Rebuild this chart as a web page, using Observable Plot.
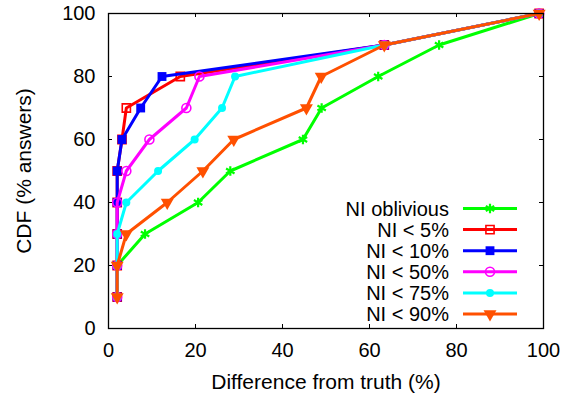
<!DOCTYPE html>
<html>
<head>
<meta charset="utf-8">
<script src="https://cdn.jsdelivr.net/npm/d3@7"></script>
<script src="https://cdn.jsdelivr.net/npm/@observablehq/plot@0.6"></script>
<style>
  html, body { margin: 0; padding: 0; background: #fff; }
  svg { display: block; }
</style>
</head>
<body>
<div id="chart"></div>
<script>
// CDF levels (% answers)
const cdfLevels = [10, 20, 30, 40, 50, 60, 70, 80, 90, 100];
// Difference from truth (%) at each CDF level, per series
const seriesNames = ["NI oblivious", "NI < 5%", "NI < 10%", "NI < 50%", "NI < 75%", "NI < 90%"];
const obliviousX = [2, 2, 8.4, 20.6, 28, 44.7, 49, 62, 76, 99];
const ni5X       = [2, 2, 2, 2, 2, 3.1, 4.1, 16.5, 63.4, 99];
const ni10X      = [2, 2, 2, 2, 2, 3.1, 7.4, 12.3, 63.4, 99];
const ni50X      = [2, 2, 2, 2, 4.1, 9.4, 17.9, 20.9, 63.4, 99];
const ni75X      = [2, 2, 2, 4.1, 11.4, 19.8, 26.1, 29.1, 63.4, 99];
const ni90X      = [2, 2, 4.1, 13.5, 21.7, 28.8, 45.5, 48.9, 63.4, 99];
const xTicks = [0, 20, 40, 60, 80, 100];
const yTicks = [0, 20, 40, 60, 80, 100];
const xTitle = "Difference from truth (%)";
const yTitle = "CDF (% answers)";

const seriesX = [obliviousX, ni5X, ni10X, ni50X, ni75X, ni90X];
const colors = ["#00ff00", "#ff0000", "#0000ff", "#ff00ff", "#00ffff", "#ff5000"];
const styles = [
  {symbol: "asterisk", r: 4.6, fill: "none", strokeWidth: 2.2},
  {symbol: "square", r: 4.6, fill: "none", strokeWidth: 1.6},
  {symbol: "square", r: 5, fill: "c", strokeWidth: 0},
  {symbol: "circle", r: 4.5, fill: "none", strokeWidth: 1.6},
  {symbol: "circle", r: 4, fill: "c", strokeWidth: 0},
  {symbol: "triangle", r: 4.8, fill: "c", strokeWidth: 0, rotate: 180}
];

const W = 568, H = 396;
const mL = 108, mR = 25, mT = 13, mB = 68;
const fw = W - mL - mR, fh = H - mT - mB;
const font = "'Liberation Sans', Arial, sans-serif";
const fs = 20;      // tick labels & legend
const fsTitle = 21; // axis titles
const tick = 4;

const marks = [];
seriesNames.forEach((name, i) => {
  const data = cdfLevels.map((y, j) => ({x: seriesX[i][j], y, name}));
  const st = styles[i];
  marks.push(Plot.line(data, {x: "x", y: "y", stroke: colors[i], strokeWidth: 3}));
  marks.push(Plot.dot(data, {
    x: "x", y: "y", symbol: st.symbol, r: st.r,
    fill: st.fill === "c" ? colors[i] : "none",
    stroke: st.strokeWidth ? colors[i] : "none",
    strokeWidth: st.strokeWidth,
    rotate: st.rotate || 0
  }));
});

const chart = Plot.plot({
  width: W, height: H,
  marginLeft: mL, marginRight: mR, marginTop: mT, marginBottom: mB,
  style: {fontFamily: font, fontSize: fs + "px", background: "#fff", color: "#000"},
  x: {domain: [0, 100], axis: null},
  y: {domain: [0, 100], axis: null},
  marks: [
    ...marks,
    // inward ticks on all four sides
    Plot.tickX(xTicks, {x: d => d, insetTop: fh - tick, stroke: "#000", strokeWidth: 1}),
    Plot.tickX(xTicks, {x: d => d, insetBottom: fh - tick, stroke: "#000", strokeWidth: 1}),
    Plot.tickY(yTicks, {y: d => d, insetRight: fw - tick, stroke: "#000", strokeWidth: 1}),
    Plot.tickY(yTicks, {y: d => d, insetLeft: fw - tick, stroke: "#000", strokeWidth: 1}),
    Plot.frame({stroke: "#000", strokeWidth: 1.3}),
    // tick labels
    Plot.text(xTicks, {x: d => d, text: d => String(d), frameAnchor: "bottom", dy: 22, lineAnchor: "middle", textAnchor: "middle", fontSize: fs, fill: "#000"}),
    Plot.text(yTicks, {y: d => d, text: d => String(d), frameAnchor: "left", dx: -13, lineAnchor: "middle", textAnchor: "end", fontSize: fs, fill: "#000"}),
    // axis titles
    Plot.text([xTitle], {text: d => d, frameAnchor: "bottom", dy: 54, lineAnchor: "middle", textAnchor: "middle", fontSize: fsTitle, fill: "#000"}),
    Plot.text([yTitle], {text: d => d, frameAnchor: "left", dx: -84, rotate: -90, lineAnchor: "middle", textAnchor: "middle", fontSize: fsTitle, fill: "#000"})
  ]
});

// Legend (inside plot, bottom-right), gnuplot style
const svg = d3.select(chart);
const lg = svg.append("g").attr("font-family", font).attr("font-size", fs);
const symMap = {asterisk: d3.symbolAsterisk, square: d3.symbolSquare, circle: d3.symbolCircle, triangle: d3.symbolTriangle};
const lx0 = 463, lx1 = 517, lm = 490, ltx = 449, ly0 = 208.5, lstep = 21.1;
seriesNames.forEach((name, i) => {
  const y = ly0 + i * lstep;
  const st = styles[i];
  lg.append("text").attr("x", ltx).attr("y", y).attr("dy", "0.35em")
    .attr("text-anchor", "end").attr("fill", "#000").text(name);
  lg.append("line").attr("x1", lx0).attr("x2", lx1).attr("y1", y).attr("y2", y)
    .attr("stroke", colors[i]).attr("stroke-width", 3);
  lg.append("path")
    .attr("d", d3.symbol(symMap[st.symbol], Math.PI * st.r * st.r)())
    .attr("transform", `translate(${lm},${y})` + (st.rotate ? ` rotate(${st.rotate})` : ""))
    .attr("fill", st.fill === "c" ? colors[i] : "none")
    .attr("stroke", st.strokeWidth ? colors[i] : "none")
    .attr("stroke-width", st.strokeWidth);
});

document.getElementById("chart").appendChild(chart);
</script>
</body>
</html>
